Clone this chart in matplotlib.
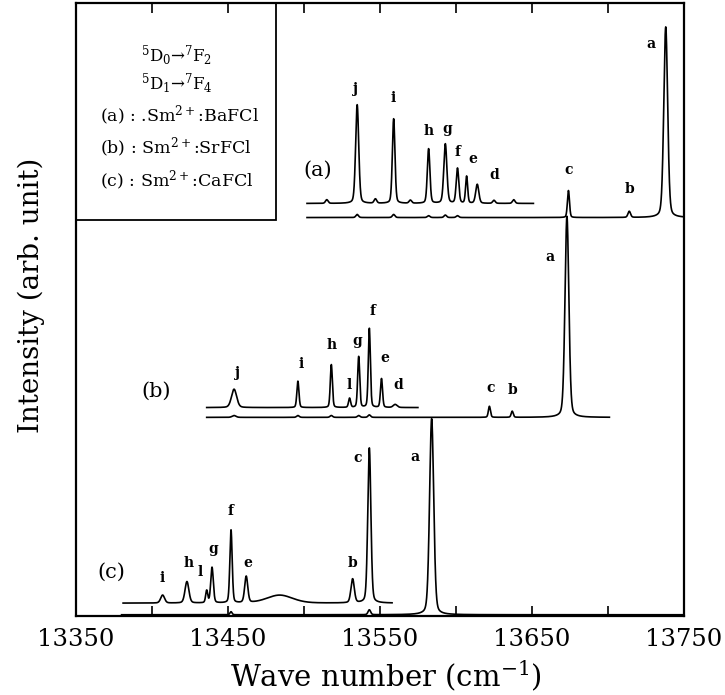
import numpy as np
import matplotlib.pyplot as plt
from matplotlib.patches import Rectangle

plt.rcParams['font.family'] = ['DejaVu Serif']
plt.rcParams['mathtext.fontset'] = 'dejavuserif'

# peak positions (cm-1), heights and half widths
# (a) Sm2+:BaFCl - full trace and magnified trace
a_main_base = 65.0
a_main_pos = [13535, 13559, 13582, 13593, 13601, 13674, 13714, 13738]
a_main_amp = [0.5, 0.5, 0.3, 0.4, 0.3, 4.4, 1.0, 31.1]
a_main_wid = [1.0, 1.0, 1.0, 1.0, 1.0, 0.8, 1.0, 1.5]
a_main_rng = [13502, 13750]

a_zoom_base = 67.3
a_zoom_pos = [13535, 13559, 13582, 13593, 13601, 13607, 13614,
              13515, 13547, 13570, 13625, 13638]
a_zoom_amp = [16.1, 13.8, 8.9, 9.7, 5.7, 4.4, 3.1,
              0.6, 0.7, 0.5, 0.5, 0.6]
a_zoom_wid = [1.2, 1.0, 1.0, 1.2, 1.0, 0.8, 1.2,
              1.0, 1.0, 1.0, 1.0, 1.0]
a_zoom_rng = [13502, 13651]

# (b) Sm2+:SrFCl
b_main_base = 32.4
b_main_pos = [13454, 13496, 13518, 13536, 13543, 13622, 13637, 13673]
b_main_amp = [0.3, 0.3, 0.3, 0.3, 0.4, 1.8, 1.0, 32.8]
b_main_wid = [1.5, 1.0, 1.0, 1.0, 1.0, 0.8, 0.8, 1.5]
b_main_rng = [13436, 13701]

b_zoom_base = 34.0
b_zoom_pos = [13454, 13496, 13518, 13530, 13536, 13543, 13551, 13560]
b_zoom_amp = [3.0, 4.3, 7.0, 1.5, 8.3, 12.9, 4.7, 0.5]
b_zoom_wid = [2.0, 0.8, 0.8, 0.8, 0.8, 0.8, 0.8, 1.5]
b_zoom_rng = [13436, 13575]

# (c) Sm2+:CaFCl
c_main_base = 0.2
c_main_pos = [13452, 13543, 13584]
c_main_amp = [0.5, 0.8, 32.0]
c_main_wid = [0.8, 1.0, 1.6]
c_main_rng = [13380, 13750]

c_zoom_base = 2.1
c_zoom_pos = [13407, 13423, 13436, 13439.5, 13452, 13462, 13484, 13532, 13543]
c_zoom_amp = [1.3, 3.5, 2.0, 5.8, 11.9, 4.3, 1.3, 3.9, 25.3]
c_zoom_wid = [1.5, 1.5, 0.8, 1.0, 0.9, 1.2, 10.0, 1.3, 1.2]
c_zoom_rng = [13381, 13558]

# peak letters
a_lab = ['a', 'b', 'c', 'j', 'i', 'h', 'g', 'f', 'e', 'd']
a_lab_x = [13728, 13714.5, 13674, 13534, 13559, 13582, 13594, 13601, 13611, 13625]
a_lab_y = [93.3, 69.6, 72.7, 86.0, 84.5, 79.1, 79.4, 75.7, 74.5, 71.9]

b_lab = ['a', 'c', 'b', 'j', 'i', 'h', 'l', 'g', 'f', 'e', 'd']
b_lab_x = [13662, 13623, 13637.5, 13456, 13498, 13518, 13530, 13535, 13545, 13553, 13562]
b_lab_y = [58.6, 37.2, 36.8, 39.6, 41.1, 44.2, 37.7, 44.9, 49.8, 42.1, 37.7]

c_lab = ['i', 'h', 'l', 'g', 'f', 'e', 'b', 'c', 'a']
c_lab_x = [13407, 13424, 13432, 13440, 13452, 13463, 13532, 13535.5, 13573]
c_lab_y = [6.25, 8.7, 7.2, 10.9, 17.1, 8.7, 8.7, 25.8, 26.0]

names = ['(a)', '(b)', '(c)']
names_x = [13509, 13403, 13373]
names_y = [72.7, 36.7, 7.2]

legend_lines = [r'$^5$D$_0$→$^7$F$_2$',
                r'$^5$D$_1$→$^7$F$_4$',
                r'(a) : .Sm$^{2+}$:BaFCl',
                r'(b) : Sm$^{2+}$:SrFCl',
                r'(c) : Sm$^{2+}$:CaFCl']

tick_major = [13350, 13450, 13550, 13650, 13750]
tick_minor = [13400, 13500, 13600, 13700]


def trace(rng, base, pos, amp, wid):
    x = np.arange(rng[0], rng[1], 0.05)
    y = np.full_like(x, base)
    for p, a, w in zip(pos, amp, wid):
        d = (x - p) / w
        y += a * (0.75 * np.exp(-np.log(2) * d ** 2) + 0.25 / (1 + d ** 2))
    return x, y


fig = plt.figure(figsize=(7.25, 6.95), dpi=100)
ax = fig.add_axes([0.1048, 0.1137, 0.8386, 0.882])

spectra = [
    (a_main_rng, a_main_base, a_main_pos, a_main_amp, a_main_wid),
    (a_zoom_rng, a_zoom_base, a_zoom_pos, a_zoom_amp, a_zoom_wid),
    (b_main_rng, b_main_base, b_main_pos, b_main_amp, b_main_wid),
    (b_zoom_rng, b_zoom_base, b_zoom_pos, b_zoom_amp, b_zoom_wid),
    (c_main_rng, c_main_base, c_main_pos, c_main_amp, c_main_wid),
    (c_zoom_rng, c_zoom_base, c_zoom_pos, c_zoom_amp, c_zoom_wid),
]
for s in spectra:
    x, y = trace(*s)
    ax.plot(x, y, color='black', lw=1.2)

for labs, xs, ys in [(a_lab, a_lab_x, a_lab_y), (b_lab, b_lab_x, b_lab_y),
                     (c_lab, c_lab_x, c_lab_y)]:
    for t, x, y in zip(labs, xs, ys):
        ax.text(x, y, t, fontsize=10, fontweight='bold', ha='center', va='center')

for t, x, y in zip(names, names_x, names_y):
    ax.text(x, y, t, fontsize=15, ha='center', va='center')

# legend box in the upper left corner
ax.add_patch(Rectangle((0, 0.646), 0.329, 0.354, transform=ax.transAxes,
                       fill=False, lw=1.3, color='black'))
ax.text(0.166, 0.914, legend_lines[0], transform=ax.transAxes, fontsize=12,
        ha='center', va='center')
ax.text(0.166, 0.868, legend_lines[1], transform=ax.transAxes, fontsize=12,
        ha='center', va='center')
for t, y in zip(legend_lines[2:], [0.816, 0.763, 0.709]):
    ax.text(0.039, y, t, transform=ax.transAxes, fontsize=12.5,
            ha='left', va='center')

ax.set_xlim(13350, 13750)
ax.set_ylim(0, 100)
ax.set_xticks(tick_major)
ax.set_xticklabels([str(t) for t in tick_major], fontsize=17.5)
ax.set_xticks(tick_minor, minor=True)
ax.set_yticks([])
ax.tick_params(axis='x', which='both', direction='in', top=True,
               length=7, width=1.2, pad=9)
for sp in ax.spines.values():
    sp.set_linewidth(1.6)

ax.set_xlabel(r'Wave number (cm$^{-1}$)', fontsize=21)
ax.xaxis.set_label_coords(0.51, -0.068)
ax.set_ylabel('Intensity (arb. unit)', fontsize=20)
ax.yaxis.set_label_coords(-0.051, 0.523)

fig.savefig('out.png', dpi=100)
